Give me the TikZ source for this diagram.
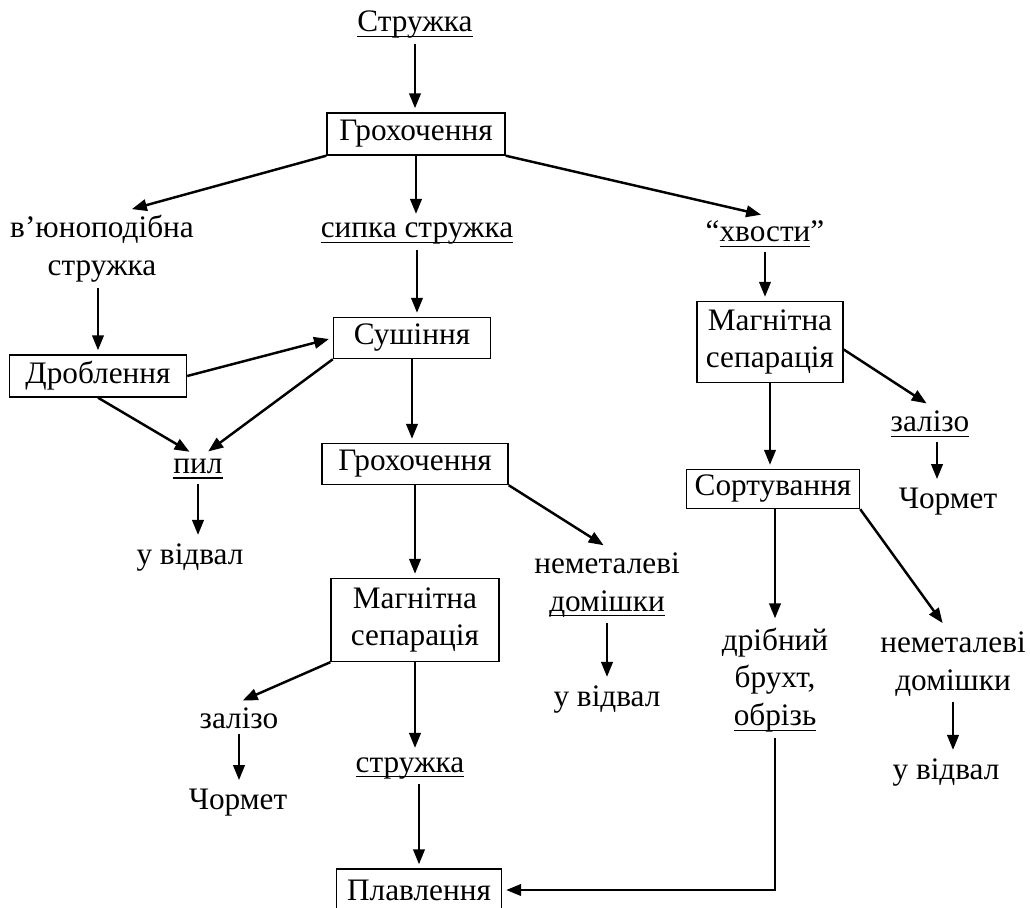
\documentclass[tikz,border=0pt]{standalone}
\usepackage{fontspec}
\setmainfont{Liberation Serif}
\usetikzlibrary{arrows.meta}
\newsavebox{\ulbox}
\newcommand{\ulin}[1]{\sbox{\ulbox}{#1}\rlap{\vrule width\wd\ulbox height -2.2pt depth 3.0pt}\usebox{\ulbox}}

\begin{document}
\begin{tikzpicture}[
    x=0.02cm, y=-0.02cm,
    >={Triangle[length=3mm,width=2.3mm]},
    font=\fontsize{17.8}{21.5}\selectfont,
    stage/.style={draw, line width=0.8pt, align=center, inner sep=0pt},
    flow/.style={align=center, inner sep=0.1cm},
    link/.style={->, line width=1.4pt, shorten >=0.08cm},
    every edge/.style={draw, link}
  ]
  \useasboundingbox (0,0) rectangle (1030,908);

  % середня гілка: сипка стружка
  \node[flow] (str) at (415,25) {\ulin{Стружка}};
  \node[stage, minimum width=3.56cm, minimum height=0.84cm] (gr1) at (416,134) {Грохочення};
  \node[flow] (sypka) at (417,234) {\ulin{сипка стружка}};
  \node[stage, minimum width=3.14cm, minimum height=0.82cm] (sush) at (412,338) {Сушіння};
  \node[stage, minimum width=3.72cm, minimum height=0.82cm] (gr2) at (415,464) {Грохочення};
  \node[stage, minimum width=3.36cm, minimum height=1.66cm] (mag1) at (415,620) {Магнітна\\сепарація};
  \node[flow] (nem1) at (607,585) {неметалеві\\\ulin{домішки}};
  \node[flow] (vidv2) at (607,700) {у відвал};
  \node[flow] (zal1) at (239,718) {залізо};
  \node[flow] (chor1) at (238,803) {Чормет};
  \node[flow] (stru) at (410,768) {\ulin{стружка}};
  \node[stage, minimum width=3.3cm, minimum height=0.84cm] (plav) at (419,890) {Плавлення};

  % ліва гілка
  \node[flow] (vyun) at (102,249) {в’юноподібна\\стружка};
  \node[stage, minimum width=3.54cm, minimum height=0.84cm] (drob) at (98,376) {Дроблення};
  \node[flow] (pyl) at (198,469) {\ulin{пил}};
  \node[flow] (vidv1) at (190,558) {у відвал};

  % права гілка: хвости
  \node[flow] (khv) at (765,234) {“\ulin{хвости}”};
  \node[stage, minimum width=2.92cm, minimum height=1.62cm] (mag2) at (770,342) {Магнітна\\сепарація};
  \node[flow] (zal2) at (930,424) {\ulin{залізо}};
  \node[flow] (chor2) at (948,502) {Чормет};
  \node[stage, minimum width=3.46cm, minimum height=0.78cm] (sort) at (773,489) {Сортування};
  \node[flow] (drib) at (775,680) {дрібний\\брухт,\\\ulin{обрізь}};
  \node[flow] (nem2) at (953,664) {неметалеві\\домішки};
  \node[flow] (vidv3) at (946,773) {у відвал};

  \path[->]
    (str) edge (str |- gr1.north)
    (gr1.south west) edge ([xshift=0.52cm]vyun.north)
    (gr1) edge (gr1 |- sypka.north)
    (gr1.south east) edge (khv.north)
    (drob |- vyun.south) edge (drob.north)
    (sypka) edge (sypka |- sush.north)
    (drob.east) edge (sush.west)
    (drob.south) edge ([xshift=-0.1cm]pyl.north)
    (sush.south west) edge ([xshift=0.14cm]pyl.north)
    (pyl) edge (pyl |- vidv1.north)
    (sush) edge (sush |- gr2.north)
    (gr2) edge (gr2 |- mag1.north)
    (gr2.south east) edge (nem1.north)
    (nem1) edge (nem1 |- vidv2.north)
    (mag1.south west) edge (zal1.north)
    (zal1) edge (zal1 |- chor1.north)
    (mag1) edge (mag1 |- stru.north)
    (plav |- stru.south) edge (plav.north)
    (khv) edge (khv |- mag2.north)
    ([yshift=-0.15cm]mag2.east) edge (zal2.north)
    ([xshift=0.14cm]zal2.south) edge ([xshift=0.14cm]zal2.south |- chor2.north)
    (mag2) edge (mag2 |- sort.north)
    (drib |- sort.south) edge (drib.north)
    (sort.south east) edge ([xshift=-0.16cm]nem2.north)
    (nem2) edge (nem2 |- vidv3.north);
  \draw[link] (drib.south) |- (plav.east);
\end{tikzpicture}
\end{document}
